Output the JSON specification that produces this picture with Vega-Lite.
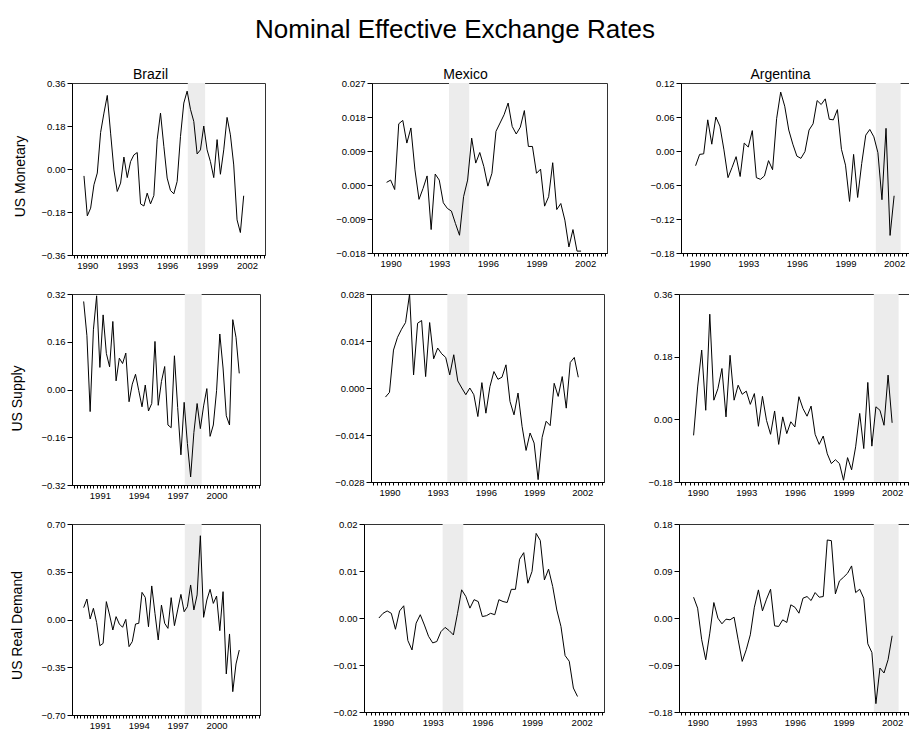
{
"$schema": "https://vega.github.io/schema/vega-lite/v6.json",
"padding": {"left": 9, "top": 17, "right": 5, "bottom": 5},
"title": {"text": "Nominal Effective Exchange Rates", "fontSize": 26, "anchor": "middle", "offset": 24.5, "dx": -8},
"spacing": 18,
"datasets": {
"B1": [{"q":7,"v":-0.029},{"q":8,"v":-0.196},{"q":9,"v":-0.164},{"q":10,"v":-0.066},{"q":11,"v":-0.017},{"q":12,"v":0.153},{"q":13,"v":0.234},{"q":14,"v":0.308},{"q":15,"v":0.15},{"q":16,"v":-0.004},{"q":17,"v":-0.094},{"q":18,"v":-0.059},{"q":19,"v":0.05},{"q":20,"v":-0.036},{"q":21,"v":0.031},{"q":22,"v":0.059},{"q":23,"v":0.069},{"q":24,"v":-0.146},{"q":25,"v":-0.155},{"q":26,"v":-0.101},{"q":27,"v":-0.146},{"q":28,"v":-0.111},{"q":29,"v":0.123},{"q":30,"v":0.234},{"q":31,"v":0.095},{"q":32,"v":-0.038},{"q":33,"v":-0.09},{"q":34,"v":-0.104},{"q":35,"v":-0.052},{"q":36,"v":0.136},{"q":37,"v":0.276},{"q":38,"v":0.326},{"q":39,"v":0.25},{"q":40,"v":0.199},{"q":41,"v":0.063},{"q":42,"v":0.08},{"q":43,"v":0.18},{"q":44,"v":0.08},{"q":45,"v":0.031},{"q":46,"v":-0.036},{"q":47,"v":0.123},{"q":48,"v":-0.022},{"q":49,"v":0.08},{"q":50,"v":0.216},{"q":51,"v":0.143},{"q":52,"v":0.017},{"q":53,"v":-0.213},{"q":54,"v":-0.266},{"q":55,"v":-0.112}],
"M1": [{"q":7,"v":0.0007},{"q":8,"v":0.0013},{"q":9,"v":-0.0012},{"q":10,"v":0.0162},{"q":11,"v":0.0171},{"q":12,"v":0.0111},{"q":13,"v":0.0151},{"q":14,"v":0.004},{"q":15,"v":-0.0038},{"q":16,"v":-0.0009},{"q":17,"v":0.0024},{"q":18,"v":-0.0118},{"q":19,"v":0.0029},{"q":20,"v":0.0013},{"q":21,"v":-0.0047},{"q":22,"v":-0.0062},{"q":23,"v":-0.0069},{"q":24,"v":-0.0102},{"q":25,"v":-0.0133},{"q":26,"v":-0.0031},{"q":27,"v":0.0013},{"q":28,"v":0.0124},{"q":29,"v":0.0058},{"q":30,"v":0.0086},{"q":31,"v":0.0049},{"q":32,"v":-0.0003},{"q":33,"v":0.0031},{"q":34,"v":0.0142},{"q":35,"v":0.0164},{"q":36,"v":0.0186},{"q":37,"v":0.0217},{"q":38,"v":0.0155},{"q":39,"v":0.0135},{"q":40,"v":0.0153},{"q":41,"v":0.0197},{"q":42,"v":0.0102},{"q":43,"v":0.0102},{"q":44,"v":0.0031},{"q":45,"v":0.0042},{"q":46,"v":-0.0056},{"q":47,"v":-0.0031},{"q":48,"v":0.0059},{"q":49,"v":-0.0065},{"q":50,"v":-0.0049},{"q":51,"v":-0.0093},{"q":52,"v":-0.0164},{"q":53,"v":-0.0118},{"q":54,"v":-0.0175},{"q":55,"v":-0.0175}],
"A1": [{"q":7,"v":-0.026},{"q":8,"v":-0.006},{"q":9,"v":-0.005},{"q":10,"v":0.055},{"q":11,"v":0.012},{"q":12,"v":0.06},{"q":13,"v":0.044},{"q":14,"v":0.002},{"q":15,"v":-0.047},{"q":16,"v":-0.029},{"q":17,"v":-0.01},{"q":18,"v":-0.045},{"q":19,"v":0.014},{"q":20,"v":0.007},{"q":21,"v":0.036},{"q":22,"v":-0.047},{"q":23,"v":-0.05},{"q":24,"v":-0.044},{"q":25,"v":-0.017},{"q":26,"v":-0.033},{"q":27,"v":0.057},{"q":28,"v":0.104},{"q":29,"v":0.079},{"q":30,"v":0.037},{"q":31,"v":0.012},{"q":32,"v":-0.009},{"q":33,"v":-0.013},{"q":34,"v":-0.001},{"q":35,"v":0.037},{"q":36,"v":0.048},{"q":37,"v":0.089},{"q":38,"v":0.082},{"q":39,"v":0.092},{"q":40,"v":0.056},{"q":41,"v":0.055},{"q":42,"v":0.073},{"q":43,"v":0.003},{"q":44,"v":-0.025},{"q":45,"v":-0.089},{"q":46,"v":-0.006},{"q":47,"v":-0.082},{"q":48,"v":-0.022},{"q":49,"v":0.028},{"q":50,"v":0.038},{"q":51,"v":0.025},{"q":52,"v":-0.003},{"q":53,"v":-0.086},{"q":54,"v":0.04},{"q":55,"v":-0.149},{"q":56,"v":-0.079}],
"B2": [{"q":7,"v":0.295},{"q":8,"v":0.18},{"q":9,"v":-0.074},{"q":10,"v":0.2},{"q":11,"v":0.314},{"q":12,"v":0.074},{"q":13,"v":0.25},{"q":14,"v":0.121},{"q":15,"v":0.076},{"q":16,"v":0.228},{"q":17,"v":0.029},{"q":18,"v":0.105},{"q":19,"v":0.087},{"q":20,"v":0.122},{"q":21,"v":-0.041},{"q":22,"v":0.018},{"q":23,"v":0.051},{"q":24,"v":-0.004},{"q":25,"v":-0.058},{"q":26,"v":0.015},{"q":27,"v":-0.072},{"q":28,"v":-0.047},{"q":29,"v":0.161},{"q":30,"v":-0.053},{"q":31,"v":0.027},{"q":32,"v":0.077},{"q":33,"v":-0.119},{"q":34,"v":-0.128},{"q":35,"v":0.113},{"q":36,"v":-0.06},{"q":37,"v":-0.219},{"q":38,"v":-0.043},{"q":39,"v":-0.181},{"q":40,"v":-0.293},{"q":41,"v":-0.144},{"q":42,"v":-0.047},{"q":43,"v":-0.131},{"q":44,"v":-0.055},{"q":45,"v":0.003},{"q":46,"v":-0.157},{"q":47,"v":-0.119},{"q":48,"v":-0.004},{"q":49,"v":0.186},{"q":50,"v":0.072},{"q":51,"v":-0.088},{"q":52,"v":-0.119},{"q":53,"v":0.234},{"q":54,"v":0.175},{"q":55,"v":0.054}],
"M2": [{"q":7,"v":-0.0027},{"q":8,"v":-0.0013},{"q":9,"v":0.0113},{"q":10,"v":0.0151},{"q":11,"v":0.0175},{"q":12,"v":0.0195},{"q":13,"v":0.028},{"q":14,"v":0.0039},{"q":15,"v":0.0193},{"q":16,"v":0.0201},{"q":17,"v":0.0034},{"q":18,"v":0.0195},{"q":19,"v":0.0087},{"q":20,"v":0.0119},{"q":21,"v":0.0102},{"q":22,"v":0.0091},{"q":23,"v":0.0039},{"q":24,"v":0.0099},{"q":25,"v":0.0021},{"q":26,"v":0},{"q":27,"v":-0.002},{"q":28,"v":0},{"q":29,"v":-0.002},{"q":30,"v":-0.0085},{"q":31,"v":0.0016},{"q":32,"v":-0.0075},{"q":33,"v":0.0004},{"q":34,"v":0.0049},{"q":35,"v":0.0026},{"q":36,"v":0.0032},{"q":37,"v":0.0069},{"q":38,"v":-0.004},{"q":39,"v":-0.008},{"q":40,"v":-0.0015},{"q":41,"v":-0.0114},{"q":42,"v":-0.0186},{"q":43,"v":-0.0134},{"q":44,"v":-0.0164},{"q":45,"v":-0.0273},{"q":46,"v":-0.0147},{"q":47,"v":-0.0099},{"q":48,"v":-0.0112},{"q":49,"v":0.0014},{"q":50,"v":-0.0025},{"q":51,"v":0.0034},{"q":52,"v":-0.006},{"q":53,"v":0.0076},{"q":54,"v":0.0091},{"q":55,"v":0.0032}],
"A2": [{"q":7,"v":-0.046},{"q":8,"v":0.093},{"q":9,"v":0.199},{"q":10,"v":0.026},{"q":11,"v":0.302},{"q":12,"v":0.055},{"q":13,"v":0.088},{"q":14,"v":0.146},{"q":15,"v":0.007},{"q":16,"v":0.184},{"q":17,"v":0.055},{"q":18,"v":0.098},{"q":19,"v":0.072},{"q":20,"v":0.081},{"q":21,"v":0.043},{"q":22,"v":0.074},{"q":23,"v":-0.02},{"q":24,"v":0.066},{"q":25,"v":-0.003},{"q":26,"v":-0.043},{"q":27,"v":0.024},{"q":28,"v":-0.072},{"q":29,"v":0.007},{"q":30,"v":-0.041},{"q":31,"v":-0.007},{"q":32,"v":-0.022},{"q":33,"v":0.065},{"q":34,"v":0.031},{"q":35,"v":0.009},{"q":36,"v":0.038},{"q":37,"v":-0.043},{"q":38,"v":-0.072},{"q":39,"v":-0.048},{"q":40,"v":-0.099},{"q":41,"v":-0.127},{"q":42,"v":-0.116},{"q":43,"v":-0.127},{"q":44,"v":-0.175},{"q":45,"v":-0.11},{"q":46,"v":-0.145},{"q":47,"v":-0.079},{"q":48,"v":0.017},{"q":49,"v":-0.084},{"q":50,"v":0.106},{"q":51,"v":-0.077},{"q":52,"v":0.036},{"q":53,"v":0.026},{"q":54,"v":-0.017},{"q":55,"v":0.127},{"q":56,"v":-0.01}],
"B3": [{"q":7,"v":0.087},{"q":8,"v":0.15},{"q":9,"v":0.004},{"q":10,"v":0.082},{"q":11,"v":-0.023},{"q":12,"v":-0.192},{"q":13,"v":-0.175},{"q":14,"v":0.131},{"q":15,"v":0.033},{"q":16,"v":-0.077},{"q":17,"v":0.021},{"q":18,"v":-0.033},{"q":19,"v":-0.057},{"q":20,"v":0.001},{"q":21,"v":-0.199},{"q":22,"v":-0.162},{"q":23,"v":-0.033},{"q":24,"v":-0.028},{"q":25,"v":0.199},{"q":26,"v":0.162},{"q":27,"v":-0.053},{"q":28,"v":0.246},{"q":29,"v":0.045},{"q":30,"v":-0.15},{"q":31,"v":0.106},{"q":32,"v":-0.028},{"q":33,"v":-0.065},{"q":34,"v":0.16},{"q":35,"v":-0.045},{"q":36,"v":0.07},{"q":37,"v":0.184},{"q":38,"v":0.057},{"q":39,"v":0.094},{"q":40,"v":0.253},{"q":41,"v":0.07},{"q":42,"v":0.18},{"q":43,"v":0.614},{"q":44,"v":0.016},{"q":45,"v":0.143},{"q":46,"v":0.221},{"q":47,"v":0.118},{"q":48,"v":0.172},{"q":49,"v":-0.082},{"q":50,"v":0.204},{"q":51,"v":-0.399},{"q":52,"v":-0.106},{"q":53,"v":-0.529},{"q":54,"v":-0.326},{"q":55,"v":-0.224}],
"M3": [{"q":7,"v":0},{"q":8,"v":0.001},{"q":9,"v":0.0015},{"q":10,"v":0.001},{"q":11,"v":-0.0024},{"q":12,"v":0.0015},{"q":13,"v":0.0026},{"q":14,"v":-0.0048},{"q":15,"v":-0.0068},{"q":16,"v":-0.0011},{"q":17,"v":0.0007},{"q":18,"v":-0.0015},{"q":19,"v":-0.0039},{"q":20,"v":-0.0053},{"q":21,"v":-0.005},{"q":22,"v":-0.0029},{"q":23,"v":-0.002},{"q":24,"v":-0.0027},{"q":25,"v":-0.0036},{"q":26,"v":0.001},{"q":27,"v":0.006},{"q":28,"v":0.0046},{"q":29,"v":0.0021},{"q":30,"v":0.0039},{"q":31,"v":0.0035},{"q":32,"v":0.0003},{"q":33,"v":0.0005},{"q":34,"v":0.001},{"q":35,"v":0.0007},{"q":36,"v":0.0039},{"q":37,"v":0.0035},{"q":38,"v":0.0033},{"q":39,"v":0.0061},{"q":40,"v":0.0061},{"q":41,"v":0.0125},{"q":42,"v":0.0139},{"q":43,"v":0.0074},{"q":44,"v":0.0099},{"q":45,"v":0.018},{"q":46,"v":0.0165},{"q":47,"v":0.0081},{"q":48,"v":0.0104},{"q":49,"v":0.0067},{"q":50,"v":0.0017},{"q":51,"v":-0.0018},{"q":52,"v":-0.008},{"q":53,"v":-0.0092},{"q":54,"v":-0.0149},{"q":55,"v":-0.0167}],
"A3": [{"q":7,"v":0.0398},{"q":8,"v":0.0188},{"q":9,"v":-0.0417},{"q":10,"v":-0.0799},{"q":11,"v":-0.029},{"q":12,"v":0.0296},{"q":13,"v":-0.0003},{"q":14,"v":-0.0111},{"q":15,"v":-0.0022},{"q":16,"v":-0.0035},{"q":17,"v":0.0016},{"q":18,"v":-0.0417},{"q":19,"v":-0.0831},{"q":20,"v":-0.0608},{"q":21,"v":-0.0322},{"q":22,"v":0.0207},{"q":23,"v":0.0538},{"q":24,"v":0.0137},{"q":25,"v":0.036},{"q":26,"v":0.0551},{"q":27,"v":-0.015},{"q":28,"v":-0.0162},{"q":29,"v":-0.0035},{"q":30,"v":-0.0086},{"q":31,"v":0.0252},{"q":32,"v":0.0207},{"q":33,"v":0.0092},{"q":34,"v":0.0379},{"q":35,"v":0.0411},{"q":36,"v":0.0334},{"q":37,"v":0.0487},{"q":38,"v":0.0398},{"q":39,"v":0.0411},{"q":40,"v":0.1494},{"q":41,"v":0.1481},{"q":42,"v":0.0462},{"q":43,"v":0.071},{"q":44,"v":0.078},{"q":45,"v":0.0857},{"q":46,"v":0.0997},{"q":47,"v":0.0487},{"q":48,"v":0.0551},{"q":49,"v":0.0379},{"q":50,"v":-0.0494},{"q":51,"v":-0.0659},{"q":52,"v":-0.164},{"q":53,"v":-0.0959},{"q":54,"v":-0.1053},{"q":55,"v":-0.0799},{"q":56,"v":-0.0341}]
},
"vconcat": [
{"hconcat": [
{"width": 193, "height": 172, "title": {"text": "Brazil", "fontSize": 14, "dx": -18, "offset": -4},
 "layer": [
  {"data": {"values": [{"s": 38.2, "e": 43.4}]}, "mark": {"type": "rect", "color": "#ececec"}, "encoding": {"x": {"field": "s", "type": "quantitative", "scale": {"domain": [3.4, 61.4], "nice": false, "zero": false}}, "x2": {"field": "e"}}},
  {"mark": {"type": "rule", "color": "#333", "strokeWidth": 1}, "encoding": {"y": {"datum": 0, "type": "quantitative", "scale": {"domain": [-0.36, 0.36], "nice": false, "zero": false}}}},
  {"data": {"name": "B1"}, "mark": {"type": "line", "color": "#000", "strokeWidth": 1, "clip": true}, "encoding": {
   "x": {"field": "q", "type": "quantitative", "scale": {"domain": [3.4, 61.4], "nice": false, "zero": false}, "axis": {"title": null, "tickCount": 60, "labelExpr": "datum.value % 12 == 8 ? format(1988 + datum.value / 4, 'd') : ''", "labelOverlap": false, "labelFlush": false, "labelBound": false}},
   "y": {"field": "v", "type": "quantitative", "scale": {"domain": [-0.36, 0.36], "nice": false, "zero": false}, "axis": {"title": "US Monetary", "titleX": -45, "titleY": 93, "titleFontSize": 14, "tickCount": 100, "values": [-0.36, -0.18, 0, 0.18, 0.36], "format": ".2f", "labelOverlap": false, "labelBound": false, "labelFlush": false}}}}
 ]},
{"width": 235, "height": 170, "title": {"text": "Mexico", "fontSize": 14, "dx": -24, "offset": -4},
 "layer": [
  {"data": {"values": [{"s": 22.4, "e": 27.4}]}, "mark": {"type": "rect", "color": "#ececec"}, "encoding": {"x": {"field": "s", "type": "quantitative", "scale": {"domain": [3.4, 61.4], "nice": false, "zero": false}}, "x2": {"field": "e"}}},
  {"mark": {"type": "rule", "color": "#333", "strokeWidth": 1}, "encoding": {"y": {"datum": 0, "type": "quantitative", "scale": {"domain": [-0.018, 0.027], "nice": false, "zero": false}}}},
  {"data": {"name": "M1"}, "mark": {"type": "line", "color": "#000", "strokeWidth": 1, "clip": true}, "encoding": {
   "x": {"field": "q", "type": "quantitative", "scale": {"domain": [3.4, 61.4], "nice": false, "zero": false}, "axis": {"title": null, "tickCount": 60, "labelExpr": "datum.value % 12 == 8 ? format(1988 + datum.value / 4, 'd') : ''", "labelOverlap": false, "labelFlush": false, "labelBound": false}},
   "y": {"field": "v", "type": "quantitative", "scale": {"domain": [-0.018, 0.027], "nice": false, "zero": false}, "axis": {"title": ".", "titleX": -95, "titleY": 85, "titleAngle": 0, "titleAlign": "left", "titleBaseline": "middle", "titleColor": "#ffffff", "titleFontSize": 9, "tickCount": 100, "values": [-0.018, -0.009, 0, 0.009, 0.018, 0.027], "format": ".3f", "labelOverlap": false, "labelBound": false, "labelFlush": false}}}}
 ]},
{"width": 235, "height": 170, "title": {"text": "Argentina", "fontSize": 14, "dx": -18, "offset": -4},
 "layer": [
  {"data": {"values": [{"s": 51.48, "e": 57.6}]}, "mark": {"type": "rect", "color": "#ececec"}, "encoding": {"x": {"field": "s", "type": "quantitative", "scale": {"domain": [3.4, 61.4], "nice": false, "zero": false}}, "x2": {"field": "e"}}},
  {"mark": {"type": "rule", "color": "#333", "strokeWidth": 1}, "encoding": {"y": {"datum": 0, "type": "quantitative", "scale": {"domain": [-0.18, 0.12], "nice": false, "zero": false}}}},
  {"data": {"name": "A1"}, "mark": {"type": "line", "color": "#000", "strokeWidth": 1, "clip": true}, "encoding": {
   "x": {"field": "q", "type": "quantitative", "scale": {"domain": [3.4, 61.4], "nice": false, "zero": false}, "axis": {"title": null, "tickCount": 60, "labelExpr": "datum.value % 12 == 8 ? format(1988 + datum.value / 4, 'd') : ''", "labelOverlap": false, "labelFlush": false, "labelBound": false}},
   "y": {"field": "v", "type": "quantitative", "scale": {"domain": [-0.18, 0.12], "nice": false, "zero": false}, "axis": {"title": ".", "titleX": -62, "titleY": 85, "titleAngle": 0, "titleAlign": "left", "titleBaseline": "middle", "titleColor": "#ffffff", "titleFontSize": 9, "tickCount": 100, "values": [-0.18, -0.12, -0.06, 0, 0.06, 0.12], "format": ".2f", "labelOverlap": false, "labelBound": false, "labelFlush": false}}}}
 ]}
], "spacing": 10},
{"hconcat": [
{"width": 188, "height": 191,
 "layer": [
  {"data": {"values": [{"s": 38.2, "e": 43.4}]}, "mark": {"type": "rect", "color": "#ececec"}, "encoding": {"x": {"field": "s", "type": "quantitative", "scale": {"domain": [3.4, 61.4], "nice": false, "zero": false}}, "x2": {"field": "e"}}},
  {"mark": {"type": "rule", "color": "#333", "strokeWidth": 1}, "encoding": {"y": {"datum": 0, "type": "quantitative", "scale": {"domain": [-0.32, 0.32], "nice": false, "zero": false}}}},
  {"data": {"name": "B2"}, "mark": {"type": "line", "color": "#000", "strokeWidth": 1, "clip": true}, "encoding": {
   "x": {"field": "q", "type": "quantitative", "scale": {"domain": [3.4, 61.4], "nice": false, "zero": false}, "axis": {"title": null, "tickCount": 60, "labelExpr": "datum.value % 12 == 0 && datum.value < 58 ? format(1988 + datum.value / 4, 'd') : ''", "labelDx": 3, "labelOverlap": false, "labelFlush": false, "labelBound": false}},
   "y": {"field": "v", "type": "quantitative", "scale": {"domain": [-0.32, 0.32], "nice": false, "zero": false}, "axis": {"title": "US Supply", "titleX": -48, "titleY": 104, "titleFontSize": 14, "tickCount": 100, "values": [-0.32, -0.16, 0, 0.16, 0.32], "format": ".2f", "labelOverlap": false, "labelBound": false, "labelFlush": false}}}}
 ]},
{"width": 233, "height": 188,
 "layer": [
  {"data": {"values": [{"s": 22.4, "e": 27.4}]}, "mark": {"type": "rect", "color": "#ececec"}, "encoding": {"x": {"field": "s", "type": "quantitative", "scale": {"domain": [3.4, 61.4], "nice": false, "zero": false}}, "x2": {"field": "e"}}},
  {"mark": {"type": "rule", "color": "#333", "strokeWidth": 1}, "encoding": {"y": {"datum": 0, "type": "quantitative", "scale": {"domain": [-0.028, 0.028], "nice": false, "zero": false}}}},
  {"data": {"name": "M2"}, "mark": {"type": "line", "color": "#000", "strokeWidth": 1, "clip": true}, "encoding": {
   "x": {"field": "q", "type": "quantitative", "scale": {"domain": [3.4, 61.4], "nice": false, "zero": false}, "axis": {"title": null, "tickCount": 60, "labelExpr": "datum.value % 12 == 8 ? format(1988 + datum.value / 4, 'd') : ''", "labelOverlap": false, "labelFlush": false, "labelBound": false}},
   "y": {"field": "v", "type": "quantitative", "scale": {"domain": [-0.028, 0.028], "nice": false, "zero": false}, "axis": {"title": ".", "titleX": -99, "titleY": 94, "titleAngle": 0, "titleAlign": "left", "titleBaseline": "middle", "titleColor": "#ffffff", "titleFontSize": 9, "tickCount": 100, "values": [-0.028, -0.014, 0, 0.014, 0.028], "format": ".3f", "labelOverlap": false, "labelBound": false, "labelFlush": false}}}}
 ]},
{"width": 235, "height": 188,
 "layer": [
  {"data": {"values": [{"s": 51.48, "e": 57.6}]}, "mark": {"type": "rect", "color": "#ececec"}, "encoding": {"x": {"field": "s", "type": "quantitative", "scale": {"domain": [3.4, 61.4], "nice": false, "zero": false}}, "x2": {"field": "e"}}},
  {"mark": {"type": "rule", "color": "#333", "strokeWidth": 1}, "encoding": {"y": {"datum": 0, "type": "quantitative", "scale": {"domain": [-0.18, 0.36], "nice": false, "zero": false}}}},
  {"data": {"name": "A2"}, "mark": {"type": "line", "color": "#000", "strokeWidth": 1, "clip": true}, "encoding": {
   "x": {"field": "q", "type": "quantitative", "scale": {"domain": [3.4, 61.4], "nice": false, "zero": false}, "axis": {"title": null, "tickCount": 60, "labelExpr": "datum.value % 12 == 8 ? format(1988 + datum.value / 4, 'd') : ''", "labelOverlap": false, "labelFlush": false, "labelBound": false}},
   "y": {"field": "v", "type": "quantitative", "scale": {"domain": [-0.18, 0.36], "nice": false, "zero": false}, "axis": {"title": ".", "titleX": -63, "titleY": 94, "titleAngle": 0, "titleAlign": "left", "titleBaseline": "middle", "titleColor": "#ffffff", "titleFontSize": 9, "tickCount": 100, "values": [-0.18, 0, 0.18, 0.36], "format": ".2f", "labelOverlap": false, "labelBound": false, "labelFlush": false}}}}
 ]}
], "spacing": 10},
{"hconcat": [
{"width": 188, "height": 191,
 "layer": [
  {"data": {"values": [{"s": 38.2, "e": 43.4}]}, "mark": {"type": "rect", "color": "#ececec"}, "encoding": {"x": {"field": "s", "type": "quantitative", "scale": {"domain": [3.4, 61.4], "nice": false, "zero": false}}, "x2": {"field": "e"}}},
  {"mark": {"type": "rule", "color": "#333", "strokeWidth": 1}, "encoding": {"y": {"datum": 0, "type": "quantitative", "scale": {"domain": [-0.7, 0.7], "nice": false, "zero": false}}}},
  {"data": {"name": "B3"}, "mark": {"type": "line", "color": "#000", "strokeWidth": 1, "clip": true}, "encoding": {
   "x": {"field": "q", "type": "quantitative", "scale": {"domain": [3.4, 61.4], "nice": false, "zero": false}, "axis": {"title": null, "tickCount": 60, "labelExpr": "datum.value % 12 == 0 && datum.value < 58 ? format(1988 + datum.value / 4, 'd') : ''", "labelDx": 3, "labelOverlap": false, "labelFlush": false, "labelBound": false}},
   "y": {"field": "v", "type": "quantitative", "scale": {"domain": [-0.7, 0.7], "nice": false, "zero": false}, "axis": {"title": "US Real Demand", "titleX": -48, "titleY": 101, "titleFontSize": 14, "tickCount": 100, "values": [-0.7, -0.35, 0, 0.35, 0.7], "format": ".2f", "labelOverlap": false, "labelBound": false, "labelFlush": false}}}}
 ]},
{"width": 240, "height": 188,
 "layer": [
  {"data": {"values": [{"s": 22.4, "e": 27.4}]}, "mark": {"type": "rect", "color": "#ececec"}, "encoding": {"x": {"field": "s", "type": "quantitative", "scale": {"domain": [3.4, 61.4], "nice": false, "zero": false}}, "x2": {"field": "e"}}},
  {"mark": {"type": "rule", "color": "#333", "strokeWidth": 1}, "encoding": {"y": {"datum": 0, "type": "quantitative", "scale": {"domain": [-0.02, 0.02], "nice": false, "zero": false}}}},
  {"data": {"name": "M3"}, "mark": {"type": "line", "color": "#000", "strokeWidth": 1, "clip": true}, "encoding": {
   "x": {"field": "q", "type": "quantitative", "scale": {"domain": [3.4, 61.4], "nice": false, "zero": false}, "axis": {"title": null, "tickCount": 60, "labelExpr": "datum.value % 12 == 8 ? format(1988 + datum.value / 4, 'd') : ''", "labelOverlap": false, "labelFlush": false, "labelBound": false}},
   "y": {"field": "v", "type": "quantitative", "scale": {"domain": [-0.02, 0.02], "nice": false, "zero": false}, "axis": {"title": ".", "titleX": -92, "titleY": 94, "titleAngle": 0, "titleAlign": "left", "titleBaseline": "middle", "titleColor": "#ffffff", "titleFontSize": 9, "tickCount": 100, "values": [-0.02, -0.01, 0, 0.01, 0.02], "format": ".2f", "labelOverlap": false, "labelBound": false, "labelFlush": false}}}}
 ]},
{"width": 235, "height": 188,
 "layer": [
  {"data": {"values": [{"s": 51.48, "e": 57.6}]}, "mark": {"type": "rect", "color": "#ececec"}, "encoding": {"x": {"field": "s", "type": "quantitative", "scale": {"domain": [3.4, 61.4], "nice": false, "zero": false}}, "x2": {"field": "e"}}},
  {"mark": {"type": "rule", "color": "#333", "strokeWidth": 1}, "encoding": {"y": {"datum": 0, "type": "quantitative", "scale": {"domain": [-0.18, 0.18], "nice": false, "zero": false}}}},
  {"data": {"name": "A3"}, "mark": {"type": "line", "color": "#000", "strokeWidth": 1, "clip": true}, "encoding": {
   "x": {"field": "q", "type": "quantitative", "scale": {"domain": [3.4, 61.4], "nice": false, "zero": false}, "axis": {"title": null, "tickCount": 60, "labelExpr": "datum.value % 12 == 8 ? format(1988 + datum.value / 4, 'd') : ''", "labelOverlap": false, "labelFlush": false, "labelBound": false}},
   "y": {"field": "v", "type": "quantitative", "scale": {"domain": [-0.18, 0.18], "nice": false, "zero": false}, "axis": {"title": ".", "titleX": -63, "titleY": 94, "titleAngle": 0, "titleAlign": "left", "titleBaseline": "middle", "titleColor": "#ffffff", "titleFontSize": 9, "tickCount": 100, "values": [-0.18, -0.09, 0, 0.09, 0.18], "format": ".2f", "labelOverlap": false, "labelBound": false, "labelFlush": false}}}}
 ]}
], "spacing": 10}
],
"config": {
 "font": "Liberation Sans",
 "view": {"stroke": "#333", "strokeWidth": 1},
 "axis": {"grid": false, "domainColor": "#000", "tickColor": "#000", "labelColor": "#000", "labelFontSize": 9.5, "labelFont": "Liberation Sans", "titleFont": "Liberation Sans", "titleFontWeight": "normal", "titleColor": "#000", "labelPadding": 2},
 "axisX": {"tickSize": 3},
 "axisY": {"tickSize": 5},
 "title": {"font": "Liberation Sans", "fontWeight": "normal", "color": "#000"}
}
}
